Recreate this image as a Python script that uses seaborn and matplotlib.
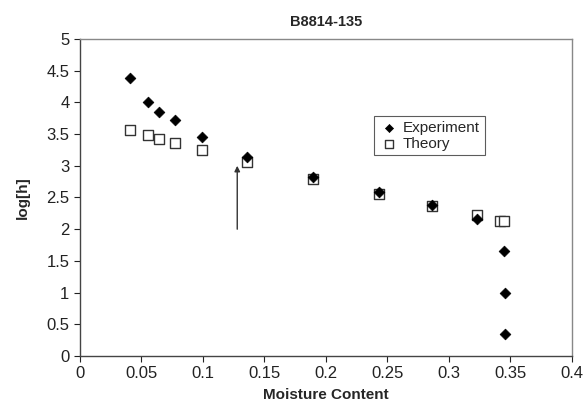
import matplotlib
matplotlib.use("Agg")
import matplotlib.pyplot as plt
import seaborn as sns
import pandas as pd

exp_x = [0.041, 0.0556, 0.0645, 0.0774, 0.0992, 0.136, 0.190, 0.243, 0.286, 0.323, 0.345, 0.346, 0.346]
exp_y = [4.39, 4.01, 3.85, 3.72, 3.45, 3.14, 2.83, 2.58, 2.38, 2.16, 1.66, 0.99, 0.34]
th_x = [0.041, 0.0556, 0.0645, 0.0774, 0.0992, 0.136, 0.190, 0.243, 0.286, 0.323, 0.342, 0.345]
th_y = [3.56, 3.48, 3.43, 3.36, 3.25, 3.06, 2.79, 2.55, 2.37, 2.22, 2.13, 2.13]
arrow_x = 0.128
arrow_y = [2.0, 3.0]
x_ticks = [0, 0.05, 0.1, 0.15, 0.2, 0.25, 0.3, 0.35, 0.4]
x_tick_labels = ["0", "0.05", "0.1", "0.15", "0.2", "0.25", "0.3", "0.35", "0.4"]
y_ticks = [0, 0.5, 1, 1.5, 2, 2.5, 3, 3.5, 4, 4.5, 5]
y_tick_labels = ["0", "0.5", "1", "1.5", "2", "2.5", "3", "3.5", "4", "4.5", "5"]

sns.set_theme(style="white")
plt.rcParams["font.family"] = ["Liberation Sans", "DejaVu Sans"]

df_exp = pd.DataFrame({"x": exp_x, "y": exp_y})
df_th = pd.DataFrame({"x": th_x, "y": th_y})

fig = plt.figure(figsize=(5.87, 4.17), dpi=100)
ax = fig.add_axes([0.136, 0.1463, 0.838, 0.7602])

sns.scatterplot(data=df_th, x="x", y="y", marker="s", s=48, facecolor="white",
                edgecolor="#333333", linewidth=1.0, ax=ax, label="Theory", zorder=3)
sns.scatterplot(data=df_exp, x="x", y="y", marker="D", s=30, color="black",
                edgecolor="black", linewidth=0.5, ax=ax, label="Experiment", zorder=4)

ax.annotate("", xy=(arrow_x, arrow_y[1]), xytext=(arrow_x, arrow_y[0]),
            arrowprops=dict(arrowstyle="-|>", color="#333333", lw=1.0,
                            mutation_scale=8, shrinkA=0, shrinkB=0))

ax.set_xlim(0, 0.4)
ax.set_ylim(0, 5)
ax.set_xticks(x_ticks)
ax.set_xticklabels(x_tick_labels)
ax.set_yticks(y_ticks)
ax.set_yticklabels(y_tick_labels)
ax.tick_params(axis="both", labelsize=12, colors="#222222", direction="out",
               length=4, width=0.8, bottom=True, left=True)
ax.tick_params(axis="x", pad=3)

for side in ["left", "bottom"]:
    ax.spines[side].set_color("#444444")
    ax.spines[side].set_linewidth(1.0)
for side in ["top", "right"]:
    ax.spines[side].set_color("#888888")
    ax.spines[side].set_linewidth(1.0)

ax.set_xlabel("Moisture Content", fontsize=11, fontweight="bold", labelpad=5)
ax.set_ylabel("log[h]", fontsize=11, fontweight="bold", labelpad=12)
ax.set_title("B8814-135", fontsize=10.5, fontweight="bold", pad=9)

handles, labels = ax.get_legend_handles_labels()
order = [labels.index("Experiment"), labels.index("Theory")]
leg = ax.legend([handles[i] for i in order], [labels[i] for i in order],
                loc="upper left", bbox_to_anchor=(0.598, 0.757), borderaxespad=0,
                fontsize=11, frameon=True, fancybox=False, shadow=False,
                handletextpad=0.3, borderpad=0.3, labelspacing=0.15,
                markerscale=0.75, handlelength=1.3)
leg.get_frame().set_edgecolor("#333333")
leg.get_frame().set_linewidth(0.8)

fig.savefig("out.png", dpi=100)
